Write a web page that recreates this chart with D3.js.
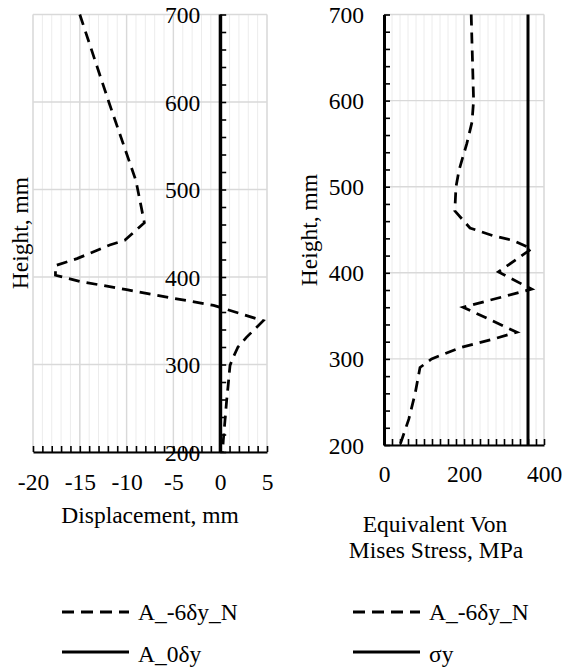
<!DOCTYPE html>
<html>
<head>
<meta charset="utf-8">
<script src="https://cdn.jsdelivr.net/npm/d3@7"></script>
<style>
  html, body { margin: 0; padding: 0; background: #fff; }
  svg { display: block; }
  svg text { font-family: "Liberation Serif", Tinos, "Times New Roman", "DejaVu Serif", serif !important; fill: #000; }
</style>
</head>
<body>
<svg id="chart" width="562" height="669"></svg>
<script>
// ---------- DATA ----------
// Left panel: displacement (mm) vs height (mm)
const dispHeights = [700, 600, 510, 462, 442, 436.6, 421, 413, 402, 395, 385.5, 377, 367.6, 350, 331, 320, 308.5, 299, 278.5, 259, 236, 213, 200];
const dispValues  = [-15.0, -11.9, -9.0, -8.1, -10.2, -11.8, -15.3, -17.6, -17.6, -15.0, -10.0, -5.7, -0.7, 4.6, 2.8, 1.9, 1.4, 1.05, 0.87, 0.69, 0.51, 0.33, 0.25];
const dispRefHeights = [200, 700];
const dispRefValues  = [0, 0];
const dispXTicks = [-20, -15, -10, -5, 0, 5];

// Right panel: equivalent Von Mises stress (MPa) vs height (mm)
const stressHeights = [700, 600, 575, 550, 520, 500, 472, 452, 443, 437.5, 428, 401, 381, 360, 331, 323, 313, 300, 290, 260, 230, 200];
const stressValues  = [218, 224, 220, 207, 188, 180, 177, 215, 273, 323, 369, 286, 369, 198, 332, 273, 190, 119, 90, 78, 62, 40];
const yieldHeights = [200, 700];
const yieldValues  = [360, 360];
const stressXTicks = [0, 200, 400];

const heightTicks = [200, 300, 400, 500, 600, 700];

const legendLeft  = ["A_-6δy_N", "A_0δy"];
const legendRight = ["A_-6δy_N", "σy"];

// ---------- DRAW ----------
const svg = d3.select("#chart");
const FONT = '"Liberation Serif", Tinos, "Times New Roman", "DejaVu Serif", serif';
const FS = "23.5px";
const DASH = "11,7";
const fmt = d => String(d).replace("\u2212", "-");

function styleText(sel) {
  sel.attr("font-family", FONT).style("font-family", FONT).style("font-size", FS).attr("fill", "#000");
}

function panel(opts) {
  const { x, y, xMinor, xMajor, yMinor, yMajor, xAxisPos, xLabelBase, xLabelTicks } = opts;
  const g = svg.append("g");
  const [x0, x1] = x.range();
  const [yb, yt] = y.range();

  g.append("g").selectAll("line").data(xMinor).join("line")
    .attr("x1", d => x(d)).attr("x2", d => x(d))
    .attr("y1", yt).attr("y2", yb)
    .attr("stroke", "#ececec").attr("stroke-width", 1);
  g.append("g").selectAll("line").data(xMajor).join("line")
    .attr("x1", d => x(d)).attr("x2", d => x(d))
    .attr("y1", yt).attr("y2", yb)
    .attr("stroke", "#d9d9d9").attr("stroke-width", 1.4);
  g.append("g").selectAll("line").data(yMajor).join("line")
    .attr("x1", x0).attr("x2", x1)
    .attr("y1", d => y(d)).attr("y2", d => y(d))
    .attr("stroke", "#d9d9d9").attr("stroke-width", 1.4);

  const xa = g.append("g").attr("transform", `translate(0,${yb})`)
    .call(d3.axisTop(x).tickValues(xMinor).tickSize(6).tickSizeOuter(0).tickFormat(""));
  xa.select(".domain").attr("stroke", "#000").attr("stroke-width", 2.2);
  xa.selectAll(".tick line").attr("stroke", "#000").attr("stroke-width", 1.6);

  const xl = g.append("g").attr("transform", `translate(0,${xLabelBase})`)
    .call(d3.axisBottom(x).tickValues(xLabelTicks).tickSize(0).tickPadding(0).tickFormat(fmt));
  xl.select(".domain").remove();
  xl.attr("font-family", FONT);
  xl.selectAll("text").attr("y", 0).attr("dy", 0).call(styleText);

  const ya = g.append("g").attr("transform", `translate(${x(xAxisPos)},0)`)
    .call(d3.axisRight(y).tickValues(yMinor).tickSize(6).tickSizeOuter(0).tickFormat(""));
  ya.select(".domain").attr("stroke", "#000").attr("stroke-width", 3);
  ya.selectAll(".tick line").attr("stroke", "#000").attr("stroke-width", 1.6);

  const yl = g.append("g").attr("transform", `translate(${x(xAxisPos)},0)`)
    .call(d3.axisLeft(y).tickValues(heightTicks).tickSize(0).tickPadding(20).tickFormat(fmt));
  yl.select(".domain").remove();
  yl.attr("font-family", FONT);
  yl.selectAll("text").attr("dy", "0.34em").call(styleText);

  return g;
}

// ----- Left panel -----
const xL = d3.scaleLinear().domain([-20, 5]).range([33, 267]);
const yL = d3.scaleLinear().domain([200, 700]).range([452, 14.5]);
const gL = panel({
  x: xL, y: yL,
  xMinor: d3.range(-20, 5.5, 1), xMajor: dispXTicks,
  yMinor: d3.range(200, 701, 20), yMajor: heightTicks,
  xAxisPos: 0, xLabelBase: 490, xLabelTicks: dispXTicks
});

const lineL = d3.line().x(d => xL(d[0])).y(d => yL(d[1]));
gL.append("path")
  .datum(dispValues.map((v, i) => [v, dispHeights[i]]))
  .attr("d", lineL).attr("fill", "none")
  .attr("stroke", "#000").attr("stroke-width", 2.75).attr("stroke-dasharray", DASH);
gL.append("path")
  .datum(dispRefValues.map((v, i) => [v, dispRefHeights[i]]))
  .attr("d", lineL).attr("fill", "none")
  .attr("stroke", "#000").attr("stroke-width", 3);

// ----- Right panel -----
const xR = d3.scaleLinear().domain([0, 400]).range([384, 544]);
const yR = d3.scaleLinear().domain([200, 700]).range([445, 14.5]);
const gR = panel({
  x: xR, y: yR,
  xMinor: d3.range(0, 401, 20), xMajor: stressXTicks,
  yMinor: d3.range(200, 701, 20), yMajor: heightTicks,
  xAxisPos: 0, xLabelBase: 482, xLabelTicks: stressXTicks
});

const lineR = d3.line().x(d => xR(d[0])).y(d => yR(d[1]));
gR.append("path")
  .datum(yieldValues.map((v, i) => [v, yieldHeights[i]]))
  .attr("d", lineR).attr("fill", "none")
  .attr("stroke", "#000").attr("stroke-width", 3);
gR.append("path")
  .datum(stressValues.map((v, i) => [v, stressHeights[i]]))
  .attr("d", lineR).attr("fill", "none")
  .attr("stroke", "#000").attr("stroke-width", 2.75).attr("stroke-dasharray", DASH);

// ----- Axis titles -----
function label(txt, attrs) {
  const t = svg.append("text").attr("text-anchor", "middle").text(txt).call(styleText);
  Object.entries(attrs).forEach(([k, v]) => t.attr(k, v));
  return t;
}
label("Displacement, mm", { x: 150, y: 523 });
label("Equivalent Von", { x: 435, y: 532 });
label("Mises Stress, MPa", { x: 436, y: 558 });
label("Height, mm", { transform: "translate(28,233) rotate(-90)" });
label("Height, mm", { transform: "translate(317,230) rotate(-90)" });

// ----- Legends -----
function legend(x0, labels) {
  const g = svg.append("g");
  const rows = [{ y: 612, base: 620, dash: "12,7" }, { y: 652, base: 662, dash: null }];
  rows.forEach((r, i) => {
    const ln = g.append("line").attr("x1", x0).attr("x2", x0 + 67)
      .attr("y1", r.y).attr("y2", r.y)
      .attr("stroke", "#000").attr("stroke-width", 3);
    if (r.dash) ln.attr("stroke-dasharray", r.dash);
    g.append("text").attr("x", x0 + 76).attr("y", r.base).text(labels[i]).call(styleText);
  });
}
legend(62, legendLeft);
legend(353, legendRight);
</script>
</body>
</html>
